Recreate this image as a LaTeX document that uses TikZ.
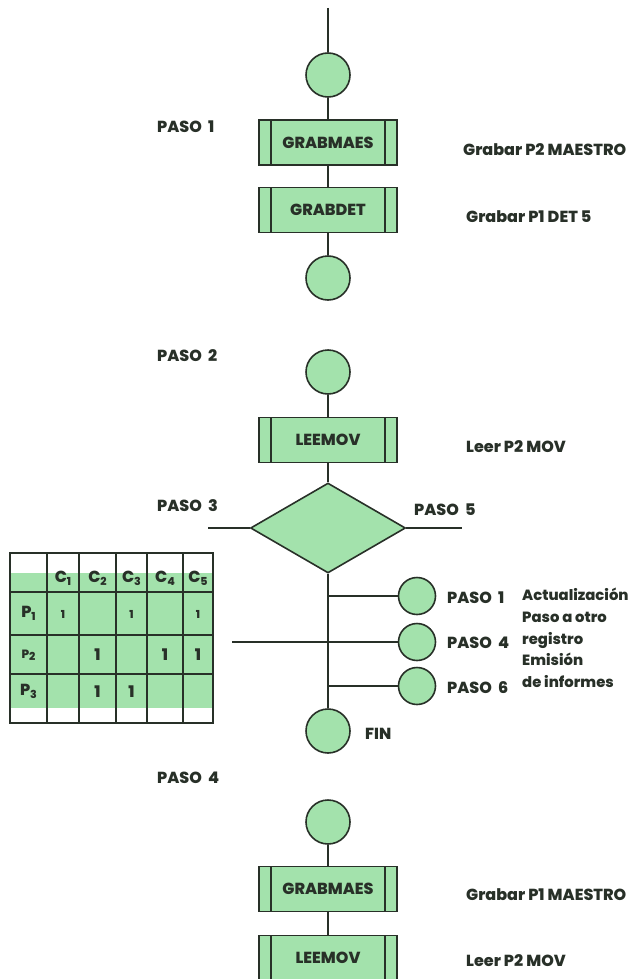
\documentclass[tikz,border=0pt]{standalone}
\usepackage{fontspec}
\setmainfont{Poppins}[BoldFont={Poppins ExtraBold}]
\usetikzlibrary{shapes.geometric}
\definecolor{leaf}{RGB}{163,226,172}
\definecolor{ink}{RGB}{40,48,40}
\newcommand{\lowidx}[1]{\raisebox{-0.35ex}{\fontsize{11}{12}\selectfont #1}}
\begin{document}
\begin{tikzpicture}[x=1pt,y=-1pt,
  conn/.style={draw=ink, line width=1.1pt},
  bigcirc/.style={circle, draw=ink, fill=leaf, line width=1.6pt, minimum size=44pt, inner sep=0pt},
  smallcirc/.style={circle, draw=ink, fill=leaf, line width=1.6pt, minimum size=37pt, inner sep=0pt},
  proc/.style={rectangle, draw=ink, fill=leaf, line width=1.6pt, minimum width=138pt, minimum height=45pt,
    inner sep=0pt, text=ink, font=\bfseries\fontsize{16}{18}\selectfont,
    path picture={
      \draw[ink, line width=1.4pt] ([xshift=12pt]path picture bounding box.north west) -- ([xshift=12pt]path picture bounding box.south west);
      \draw[ink, line width=1.4pt] ([xshift=-12pt]path picture bounding box.north east) -- ([xshift=-12pt]path picture bounding box.south east);
    }},
  decide/.style={diamond, draw=ink, fill=leaf, line width=1.6pt, minimum width=155pt, minimum height=90pt, inner sep=0pt, aspect=1.72},
  lbl/.style={anchor=base west, text=ink, inner sep=0pt, font=\bfseries\fontsize{16}{18}\selectfont},
  note/.style={lbl, font=\bfseries\fontsize{14.8}{17}\selectfont},
  cell/.style={text=ink, inner sep=0pt, font=\bfseries\fontsize{16}{18}\selectfont},
  one/.style={text=ink, inner sep=0pt, font=\bfseries\fontsize{11}{13}\selectfont}
]
\useasboundingbox (0,0) rectangle (636,979);

% ---- step 1: write master and detail
\coordinate (top) at (328,8);
\node[bigcirc] (c1) at (328,75) {};
\node[proc] (gm1) at (328,142.5) {GRABMAES};
\node[proc] (gd1) at (328,210) {GRABDET};
\node[bigcirc] (c2) at (328,278) {};
\draw[conn] (top) -- (c1);
\draw[conn] (c1) -- (gm1);
\draw[conn] (gm1) -- (gd1);
\draw[conn] (gd1) -- (c2);
\node[lbl] (p1) at (157,132) {PASO\ \ 1};
\node[lbl] (t1) at (463,155) {Grabar P2 MAESTRO};
\node[lbl] (t2) at (466,222) {Grabar P1 DET 5};

% ---- step 2: read movement, decide
\node[lbl] (p2) at (157,361) {PASO\ \ 2};
\node[bigcirc] (c3) at (328,372) {};
\node[proc] (lm1) at (328,440) {LEEMOV};
\node[lbl] (t3) at (466,452) {Leer P2 MOV};
\node[decide] (d) at (328,528) {};
\draw[conn] (c3) -- (lm1);
\draw[conn] (lm1) -- (d);
\coordinate (l3) at (208,528);
\coordinate (r5) at (462,528);
\draw[conn] (l3) -- (d.west);
\draw[conn] (d.east) -- (r5);
\node[lbl] (p3) at (157,511) {PASO\ \ 3};
\node[lbl] (p5) at (414,515) {PASO\ \ 5};

% ---- branches
\node[bigcirc] (fin) at (328,731) {};
\node[lbl] (tfin) at (365,739) {FIN};
\draw[conn] (d.south) -- (fin);
\coordinate (j1) at (328,596);
\coordinate (j2) at (328,642);
\coordinate (j3) at (328,686);
\node[smallcirc] (s1) at (417,596) {};
\node[smallcirc] (s2) at (417,642) {};
\node[smallcirc] (s3) at (417,686) {};
\draw[conn] (j1) -- (s1);
\draw[conn] (j2) -- (s2);
\draw[conn] (j3) -- (s3);
\coordinate (tl) at (232,642);
\draw[conn] (tl) -- (j2);
\node[lbl] (b1) at (447,603) {PASO\ \ 1};
\node[lbl] (b4) at (447,648) {PASO\ \ 4};
\node[lbl] (b6) at (447,693) {PASO\ \ 6};
\node[note] (e1) at (522,600) {Actualización};
\node[note] (e2) at (522,622) {Paso a otro};
\node[note] (e3) at (522,644) {registro};
\node[note] (e4) at (522,665) {Emisión};
\node[note] (e5) at (522,687) {de informes};

% ---- table
\fill[leaf] (10,573) rectangle (213,708);
\draw[ink, line width=1.4pt] (10,553) rectangle (213,723);
\foreach \x in {47,79,116,147,183} \draw[ink, line width=1.4pt] (\x,553) -- (\x,723);
\foreach \y in {592,635,674} \draw[ink, line width=1.4pt] (10,\y) -- (213,\y);
\node[cell] (h1) at (63,578) {C\lowidx{1}};
\node[cell] (h2) at (97.5,578) {C\lowidx{2}};
\node[cell] (h3) at (131.5,578) {C\lowidx{3}};
\node[cell] (h4) at (165,578) {C\lowidx{4}};
\node[cell] (h5) at (198,578) {C\lowidx{5}};
\node[cell] (r1) at (28.5,613) {P\lowidx{1}};
\node[cell, font=\bfseries\fontsize{12}{14}\selectfont] (r2) at (28.5,655) {P\lowidx{2}};
\node[cell] (r3) at (28.5,691) {P\lowidx{3}};
\node[one] at (63,614) {1};
\node[one] at (131.5,614) {1};
\node[one] at (198,614) {1};
\node[cell] at (97.5,655) {1};
\node[cell] at (165,655) {1};
\node[cell] at (198,655) {1};
\node[cell] at (97.5,692) {1};
\node[cell] at (131.5,692) {1};

% ---- step 4
\node[lbl] (p4) at (157,783) {PASO\ \ 4};
\node[bigcirc] (c5) at (328,822) {};
\node[proc] (gm2) at (328,889) {GRABMAES};
\node[proc] (lm2) at (328,958) {LEEMOV};
\draw[conn] (c5) -- (gm2);
\draw[conn] (gm2) -- (lm2);
\node[lbl] (t4) at (466,900) {Grabar P1 MAESTRO};
\node[lbl] (t5) at (466,966) {Leer P2 MOV};
\end{tikzpicture}
\end{document}
